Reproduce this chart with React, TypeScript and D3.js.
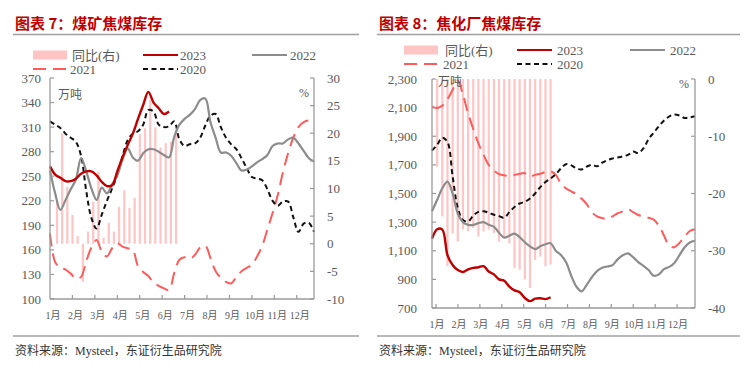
import React from 'react';
import * as d3 from 'd3';

const months = ['1月', '2月', '3月', '4月', '5月', '6月', '7月', '8月', '9月', '10月', '11月', '12月'];

// 图表7 煤矿焦煤库存 (万吨, weekly)
const mineYoy = [7.6, 20, 10.3, 5.2, 1.4, -6.9, 2.2, 7.6, 13, 1.1, 3.8, 2.2, 6.7, 9.7, 6.5, 8.3, 19.8, 20.9, 26, 21.1, 17.4, 18.2, 18.5, 20.6];
const mine2023 = [262, 252, 248, 244, 244, 247, 253, 256, 256, 251, 243, 238, 239, 256, 273, 288, 302, 320, 337, 353, 340, 333, 326, 329];
const mine2022 = [257, 229, 209, 221, 234, 246, 272, 256, 235, 221, 236, 229, 240, 251, 270, 284, 273, 269, 278, 283, 283, 280, 276, 273, 298, 313, 320, 325, 332, 343, 345, 316, 297, 279, 279, 275, 266, 257, 258, 262, 267, 271, 276, 287, 290, 290, 295, 297, 290, 281, 272, 268];
const mine2021 = [180, 145, 138, 136, 131, 125, 127, 146, 163, 172, 158, 152, 162, 168, 164, 162, 160, 140, 133, 128, 120, 116, 113, 111, 132, 148, 151, 149, 154, 163, 165, 150, 134, 126, 121, 119, 127, 134, 138, 142, 152, 165, 185, 205, 227, 255, 278, 297, 310, 316, 318, 316];
const mine2020 = [317, 313, 309, 302, 297, 292, 275, 232, 199, 186, 203, 220, 235, 252, 274, 294, 302, 305, 313, 331, 329, 313, 310, 311, 317, 295, 287, 289, 290, 297, 312, 324, 326, 310, 297, 289, 283, 272, 260, 249, 247, 245, 234, 220, 214, 219, 219, 200, 182, 192, 193, 182];
const mineLeftTicks = [100, 130, 160, 190, 220, 250, 280, 310, 340, 370];
const mineRightTicks = [-10, -5, 0, 5, 10, 15, 20, 25, 30];

// 图表8 焦化厂焦煤库存
const cokeYoy = [-15.3, -24, -32.7, -27, -28.4, -26.3, -26.6, -26, -27.5, -26.6, -26.3, -26.9, -28.4, -27.8, -28.7, -33, -33.3, -35, -36.5, -31.6, -31, -32.7, -32.4];
const coke2023 = [1185, 1250, 1248, 1070, 1000, 965, 952, 970, 980, 985, 992, 955, 935, 900, 890, 850, 823, 810, 770, 748, 765, 768, 762, 775];
const coke2022 = [1375, 1456, 1537, 1583, 1500, 1360, 1300, 1281, 1281, 1293, 1300, 1281, 1268, 1225, 1192, 1205, 1220, 1195, 1160, 1130, 1111, 1132, 1145, 1153, 1100, 1070, 1020, 925, 850, 816, 862, 915, 958, 982, 990, 1000, 1040, 1068, 1082, 1055, 1020, 995, 965, 925, 935, 972, 987, 1015, 1070, 1125, 1158, 1170];
const coke2021 = [2107, 2097, 2114, 2160, 2225, 2290, 2190, 2060, 1950, 1850, 1770, 1700, 1660, 1635, 1628, 1620, 1630, 1638, 1642, 1618, 1630, 1638, 1650, 1655, 1630, 1570, 1535, 1515, 1495, 1465, 1425, 1370, 1340, 1328, 1323, 1340, 1362, 1375, 1390, 1370, 1350, 1340, 1330, 1318, 1275, 1205, 1135, 1125, 1155, 1200, 1238, 1250];
const coke2020 = [1800, 1840, 1890, 1860, 1620, 1400, 1315, 1305, 1345, 1372, 1376, 1365, 1352, 1342, 1330, 1370, 1405, 1430, 1442, 1465, 1500, 1545, 1580, 1605, 1635, 1675, 1705, 1697, 1675, 1668, 1688, 1700, 1690, 1715, 1733, 1745, 1752, 1760, 1770, 1793, 1783, 1815, 1880, 1925, 1970, 2010, 2038, 2052, 2045, 2028, 2032, 2040];
const cokeLeftTicks = [700, 900, 1100, 1300, 1500, 1700, 1900, 2100, 2300];
const cokeRightTicks = [-40, -30, -20, -10, 0];

const SERIF = '"Liberation Serif", "Times New Roman", "Noto Sans CJK SC", serif';
const CJK = '"Noto Sans CJK SC", sans-serif';
const AXIS = '#9a9a9a';
const TEXT = '#595959';
const C2023 = '#c00000';
const C2022 = '#8c8c8c';
const C2021 = '#ff5b5b';
const C2020 = '#111111';
const BAR = '#ffc4c4';

type PanelProps = {
  title: string;
  left: number; right: number; top: number; bottom: number;
  sepX0: number; sepX1: number;
  leftDomain: [number, number]; leftTicks: number[]; leftFmt: (v: number) => string;
  rightDomain: [number, number]; rightTicks: number[];
  yoy: number[]; barShift: number;
  s2023: number[]; s2022: number[]; s2021: number[]; s2020: number[];
  monthIdx: (k: number) => number; monthDx: number; bottomTickFrom: number;
  legendY: number; legendCols: number[]; legendText: number[];
  unitX: number; unitY: number; pctX: number; pctY: number;
  leftLabelX: number; rightLabelX: number;
};

function Panel(p: PanelProps) {
  const x = d3.scaleLinear().domain([0, 51]).range([p.left, p.right]);
  const y = d3.scaleLinear().domain(p.leftDomain).range([p.bottom, p.top]);
  const y2 = d3.scaleLinear().domain(p.rightDomain).range([p.bottom, p.top]);
  const line = d3.line<number>()
    .x((_, i) => x(i))
    .y(d => y(d))
    .curve(d3.curveCatmullRom.alpha(0.5));
  const zero = y2(0);
  const [sw0, sw1, sw2] = p.legendCols;
  const [tx0, tx1, tx2] = p.legendText;
  const ly0 = p.legendY;
  const ly1 = p.legendY + 14;

  return (
    <g>
      <text x={p.sepX0 + 2} y={29} fill={C2023} fontSize={15} fontWeight={700} fontFamily={CJK}>{p.title}</text>
      <line x1={p.sepX0} x2={p.sepX1} y1={34.5} y2={34.5} stroke="#a0a0a0" strokeWidth={1.5} />

      {/* legend */}
      <rect x={sw0} y={ly0 - 4.5} width={34} height={9} fill={BAR} />
      <text x={tx0} y={ly0 + 4.5} fontSize={13} fill={TEXT} fontFamily={SERIF}>同比(右)</text>
      <line x1={sw1} x2={sw1 + 35} y1={ly0} y2={ly0} stroke={C2023} strokeWidth={2.2} />
      <text x={tx1} y={ly0 + 4.5} fontSize={13} fill={TEXT} fontFamily={SERIF}>2023</text>
      <line x1={sw2} x2={sw2 + 35} y1={ly0} y2={ly0} stroke={C2022} strokeWidth={2.2} />
      <text x={tx2} y={ly0 + 4.5} fontSize={13} fill={TEXT} fontFamily={SERIF}>2022</text>
      <line x1={sw0} x2={sw0 + 34} y1={ly1} y2={ly1} stroke={C2021} strokeWidth={2.2} strokeDasharray="13 7" />
      <text x={tx0 - 2} y={ly1 + 4.5} fontSize={13} fill={TEXT} fontFamily={SERIF}>2021</text>
      <line x1={sw1} x2={sw1 + 35} y1={ly1} y2={ly1} stroke={C2020} strokeWidth={2.2} strokeDasharray="5 3.5" />
      <text x={tx1} y={ly1 + 4.5} fontSize={13} fill={TEXT} fontFamily={SERIF}>2020</text>

      {/* bars */}
      {p.yoy.map((v, i) => (
        <rect key={i} x={x(i + p.barShift) - 1.1} width={2.2}
          y={Math.min(y2(v), zero)} height={Math.abs(y2(v) - zero)} fill={BAR} />
      ))}

      {/* lines */}
      <path d={line(p.s2021) || ''} fill="none" stroke={C2021} strokeWidth={2} strokeDasharray="13 7" />
      <path d={line(p.s2020) || ''} fill="none" stroke={C2020} strokeWidth={2} strokeDasharray="5 3.5" />
      <path d={line(p.s2022) || ''} fill="none" stroke={C2022} strokeWidth={2.2} />
      <path d={line(p.s2023) || ''} fill="none" stroke={C2023} strokeWidth={2.4} />

      {/* axes */}
      <line x1={p.left} x2={p.left} y1={p.top} y2={p.bottom} stroke={AXIS} strokeWidth={1.3} />
      <line x1={p.right} x2={p.right} y1={p.top} y2={p.bottom} stroke={AXIS} strokeWidth={1.3} />
      <line x1={p.left} x2={p.right} y1={p.bottom} y2={p.bottom} stroke={AXIS} strokeWidth={1.3} />
      {p.leftTicks.map(t => (
        <g key={'l' + t}>
          <line x1={p.left} x2={p.left + 4} y1={y(t)} y2={y(t)} stroke={AXIS} strokeWidth={1.2} />
          <text x={p.leftLabelX} y={y(t) + 4.5} textAnchor="end" fontSize={13} fill={TEXT} fontFamily={SERIF}>{p.leftFmt(t)}</text>
        </g>
      ))}
      {p.rightTicks.map(t => (
        <g key={'r' + t}>
          <line x1={p.right - 4} x2={p.right} y1={y2(t)} y2={y2(t)} stroke={AXIS} strokeWidth={1.2} />
          <text x={p.rightLabelX} y={y2(t) + 4.5} fontSize={13} fill={TEXT} fontFamily={SERIF}>{t}</text>
        </g>
      ))}
      {months.map((m, k) => {
        const mx = x(p.monthIdx(k));
        return (
          <g key={m}>
            {k >= p.bottomTickFrom && (
              <line x1={mx} x2={mx} y1={p.bottom} y2={p.bottom - 4} stroke={AXIS} strokeWidth={1.2} />
            )}
            <text x={mx + p.monthDx} y={p.bottom + 19.5} textAnchor="middle" fontSize={10} fill={TEXT} fontFamily={SERIF}>{m}</text>
          </g>
        );
      })}
      <text x={p.unitX} y={p.unitY} fontSize={12} fill={TEXT} fontFamily={CJK}>万吨</text>
      <text x={p.pctX} y={p.pctY} fontSize={12} fill={TEXT} fontFamily={SERIF}>%</text>

      <line x1={p.sepX0} x2={p.sepX1} y1={336} y2={336} stroke="#a0a0a0" strokeWidth={1.5} />
      <text x={p.sepX0 + 2} y={355} fontSize={12} fill="#333" fontFamily={SERIF}>资料来源：Mysteel，东证衍生品研究院</text>
    </g>
  );
}

export default function App() {
  const comma = d3.format(',');
  return (
    <svg width={751} height={367} viewBox="0 0 751 367"
      style={{ position: 'absolute', left: 0, top: 0, background: '#fff' }}>
      <rect width={751} height={367} fill="#fff" />
      <Panel
        title="图表 7：煤矿焦煤库存"
        left={50} right={314} top={78} bottom={299}
        sepX0={13} sepX1={359}
        leftDomain={[100, 370]} leftTicks={mineLeftTicks} leftFmt={v => String(v)}
        rightDomain={[-10, 30]} rightTicks={mineRightTicks}
        yoy={mineYoy} barShift={1.35}
        s2023={mine2023} s2022={mine2022} s2021={mine2021} s2020={mine2020}
        monthIdx={k => (k * 52) / 12} monthDx={3} bottomTickFrom={1}
        legendY={55} legendCols={[33, 143, 252]} legendText={[72, 180, 290]}
        unitX={58} unitY={99} pctX={299} pctY={97}
        leftLabelX={41} rightLabelX={327}
      />
      <Panel
        title="图表 8：焦化厂焦煤库存"
        left={432} right={695} top={79} bottom={308}
        sepX0={377} sepX1={740}
        leftDomain={[700, 2300]} leftTicks={cokeLeftTicks} leftFmt={v => comma(v)}
        rightDomain={[-40, 0]} rightTicks={cokeRightTicks}
        yoy={cokeYoy} barShift={1}
        s2023={coke2023} s2022={coke2022} s2021={coke2021} s2020={coke2020}
        monthIdx={k => 0.78 + k * 4.25} monthDx={1} bottomTickFrom={0}
        legendY={50} legendCols={[404, 517, 630]} legendText={[445, 557, 670]}
        unitX={438} unitY={86} pctX={679} pctY={88}
        leftLabelX={417} rightLabelX={708}
      />
    </svg>
  );
}
